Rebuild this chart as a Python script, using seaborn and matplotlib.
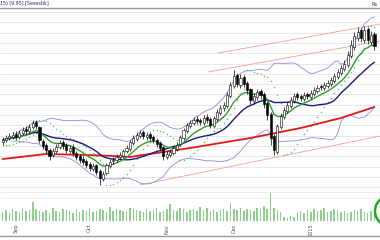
import numpy as np
import pandas as pd
import matplotlib
matplotlib.use("Agg")
import matplotlib.pyplot as plt
from matplotlib.patches import Ellipse
from matplotlib.lines import Line2D
import seaborn as sns

# ---------------- data ----------------
opens = [58,60,62,63,66,63,67,71,69,73,78,73,59,55,50,45,49,53,58,55,
         49,53,47,44,41,39,36,31,35,29,21,27,34,39,40,43,44,49,51,57,
         61,64,68,63,66,63,60,57,53,43,45,47,51,56,62,69,74,77,81,80,
         77,83,81,74,81,87,92,94,104,114,125,115,123,117,111,99,103,109,106,97,
         86,64,48,73,83,89,94,99,106,104,101,106,103,106,109,114,112,114,116,119,
         123,127,131,135,144,153,162,170,160,171,158,166]
closes = [60,62,64,65,63,67,70,69,73,77,74,60,54,50,44,49,53,57,54,50,
          52,47,43,40,38,35,32,34,28,22,26,35,38,40,43,45,49,52,58,62,
          65,67,64,65,62,60,56,52,44,46,48,52,55,63,70,75,77,80,79,78,
          82,80,75,82,88,92,95,105,115,124,116,122,116,110,100,104,108,105,96,85,
          62,50,74,84,90,95,100,104,103,102,105,104,107,110,112,113,115,117,120,124,
          128,132,136,145,155,164,168,162,170,160,165,154]
highs = [63,65,67,68,69,70,73,74,76,80,80,74,61,57,52,52,56,60,60,57,
         55,56,49,46,44,41,38,37,36,31,29,37,41,43,46,48,51,55,60,65,
         68,70,70,68,68,65,62,59,54,49,51,54,58,65,72,77,80,83,84,82,
         85,86,83,84,91,95,98,108,118,130,127,126,125,119,112,107,111,111,108,99,
         88,66,76,87,93,98,103,107,108,106,108,108,110,113,115,116,118,120,123,127,
         131,135,140,149,160,168,173,172,174,173,169,168]
lows = [55,58,60,61,60,61,65,66,67,71,71,57,51,47,40,43,47,51,51,47,
        47,44,40,37,35,32,29,29,25,15,19,25,32,36,38,41,42,47,49,55,
        59,62,61,60,59,57,53,49,40,41,43,45,49,54,60,67,72,75,76,75,
        75,77,72,72,79,85,89,92,102,112,113,112,113,106,96,96,100,101,92,80,
        55,45,46,71,81,87,92,97,100,99,99,101,101,104,107,110,110,112,114,117,
        121,125,129,133,142,150,159,158,157,156,155,150]
volumes = [9,11,8,12,10,9,13,10,11,19, 12,10,9,11,8,13,10,9,12,11,
           10,8,12,9,11,10,13,9,10,12, 11,9,14,10,12,11,10,9,13,12,
           11,10,9,12,10,11,13,9,10,12, 17,11,10,13,12,9,11,12,10,14,
           11,13,10,12,9,11,12,10,18,12, 11,13,10,12,11,10,13,12,15,12,
           28,13,11,9,4,3,5,4,9,10, 8,11,9,12,10,11,13,9,10,12,
           11,9,10,8,9,11,10,12,9,8, 10,9]
start_date = "2014-08-26"

# long moving average (red), read at a few bars
red_idx = [0, 13, 25, 33, 38, 56, 74, 77, 89, 101, 111]
red_val = [41, 46, 45, 44, 43, 52, 62, 64, 72, 82, 93]

# trend channel lines (bar index, value)
chan_upper_idx, chan_upper_val = [64.3, 112.7], [147, 176]
chan_mid_idx, chan_mid_val = [61.3, 112.7], [128, 159]
chan_low_idx, chan_low_val = [41.0, 112.7], [15, 64]

title_text = "15) [9.95] [Sesestik]"

# ---------------- derived ----------------
n = len(closes)
idx = np.arange(n)
dates = pd.bdate_range(start_date, periods=n)
df = pd.DataFrame({"i": idx, "open": opens, "high": highs, "low": lows,
                   "close": closes, "vol": volumes}, index=dates)
c = df["close"]
df["ma_short"] = c.ewm(span=10, adjust=False).mean()
df["ma_mid"] = c.rolling(20, min_periods=1).mean()
sd = c.rolling(20, min_periods=4).std()
df["bb_up"] = df["ma_mid"] + 2 * sd
df["bb_lo"] = df["ma_mid"] - 2 * sd


def psar(high, low, af0=0.02, afmax=0.2):
    high = np.asarray(high, float); low = np.asarray(low, float)
    m = len(high); sar = np.zeros(m)
    bull = True; af = af0; ep = high[0]; sar[0] = low[0]
    for i in range(1, m):
        prev = sar[i - 1]
        s = prev + af * (ep - prev)
        if bull:
            s = min(s, low[i - 1], low[max(i - 2, 0)])
            if low[i] < s:
                bull = False; s = ep; ep = low[i]; af = af0
            elif high[i] > ep:
                ep = high[i]; af = min(af + af0, afmax)
        else:
            s = max(s, high[i - 1], high[max(i - 2, 0)])
            if high[i] > s:
                bull = True; s = ep; ep = high[i]; af = af0
            elif low[i] < ep:
                ep = low[i]; af = min(af + af0, afmax)
        sar[i] = s
    return sar


df["sar"] = psar(highs, lows)

# month ticks
mstart = [k for k in range(1, n) if dates[k].month != dates[k - 1].month]
mlabels = [dates[k].strftime("%b") if dates[k].month != 1 else str(dates[k].year)
           for k in mstart]

# ---------------- drawing ----------------
sns.set_theme(style="white")
plt.rcParams["font.family"] = ["DejaVu Sans"]

W, H = 380, 240
fig = plt.figure(figsize=(W / 100, H / 100), dpi=100)
fig.patch.set_facecolor("white")

ax = fig.add_axes([0, 1 - 193 / H, 1.0, 185 / H])
axv = fig.add_axes([0, 1 - 221 / H, 1.0, 28 / H], sharex=ax)

xlo, xhi = -0.78, 112.66
ax.set_xlim(xlo, xhi)
ax.set_ylim(7, 192)

# gridlines
for gy in np.arange(188, 8, -10.3):
    ax.axhline(gy, color="#e4e4e4", lw=0.6, zorder=0)

# channel lines
for xi, yv in [(chan_upper_idx, chan_upper_val), (chan_mid_idx, chan_mid_val),
               (chan_low_idx, chan_low_val)]:
    ax.plot(xi, yv, color="#f2a0a0", lw=0.6, zorder=1)

# Bollinger bands
sns.lineplot(x=df["i"], y=df["bb_up"], ax=ax, color="#8c8cdc", lw=0.6, zorder=2)
sns.lineplot(x=df["i"], y=df["bb_lo"], ax=ax, color="#8c8cdc", lw=0.6, zorder=2)
# parabolic SAR dots
sns.scatterplot(x=df["i"], y=df["sar"], ax=ax, color="#66c266", s=1.2,
                linewidth=0, zorder=2)
# moving averages
sns.lineplot(x=red_idx, y=red_val, ax=ax, color="#e01818", lw=1.3, zorder=3)
sns.lineplot(x=df["i"], y=df["ma_mid"], ax=ax, color="#1a1a80", lw=1.0, zorder=3)
sns.lineplot(x=df["i"], y=df["ma_short"], ax=ax, color="#2e9e2e", lw=1.0, zorder=3)

# candlesticks
o = np.array(opens); cl = np.array(closes)
up = cl >= o
ax.vlines(idx, lows, highs, color="black", lw=0.5, zorder=4)
body_h = np.maximum(np.abs(cl - o), 0.6)
ax.bar(idx[up], body_h[up], bottom=np.minimum(o, cl)[up], width=0.65,
       color="white", edgecolor="black", linewidth=0.4, zorder=5)
ax.bar(idx[~up], body_h[~up], bottom=np.minimum(o, cl)[~up], width=0.65,
       color="black", edgecolor="black", linewidth=0.4, zorder=5)

ax.set_xlabel(""); ax.set_ylabel("")
ax.set_xticks([]); ax.set_yticks([])
for s in ["left", "right"]:
    ax.spines[s].set_visible(False)
for s in ["top", "bottom"]:
    ax.spines[s].set_color("#9a9a9a")
    ax.spines[s].set_linewidth(1.0)

# volume panel
axv.set_ylim(0, 28)
axv.axhline(23, color="#ececec", lw=0.6, zorder=0)
axv.bar(idx, volumes, width=0.45, color="#8fd08f", linewidth=0, zorder=2)
for s in axv.spines.values():
    s.set_visible(False)
axv.set_yticks([])
axv.set_xticks(mstart)
axv.set_xticklabels(mlabels, rotation=90, fontsize=3.6, color="#555555")
axv.tick_params(axis="x", length=0, pad=2)
axv.set_xlabel(""); axv.set_ylabel("")
axv.set_xlim(xlo, xhi)

# frame line at the bottom
fig.add_artist(Line2D([0, 1], [1 - 236 / H] * 2, color="#9a9a9a", lw=1.0))

# title and top-right text
fig.text(0.0, 1 - 4 / H, title_text, fontsize=3.4, color="#2a2a6a",
         ha="left", va="center")
fig.text(372 / W, 1 - 4 / H, "Rs", fontsize=3.6, color="#2a2a6a",
         ha="left", va="center")

# green circle marker at the right edge of the volume panel
fig.add_artist(Ellipse((390 / W, 1 - 211 / H), 30 / W, 30 / H,
                       transform=fig.transFigure, fill=False,
                       edgecolor="#22aa22", lw=1.8))

fig.savefig("out.png", dpi=100, facecolor="white")
